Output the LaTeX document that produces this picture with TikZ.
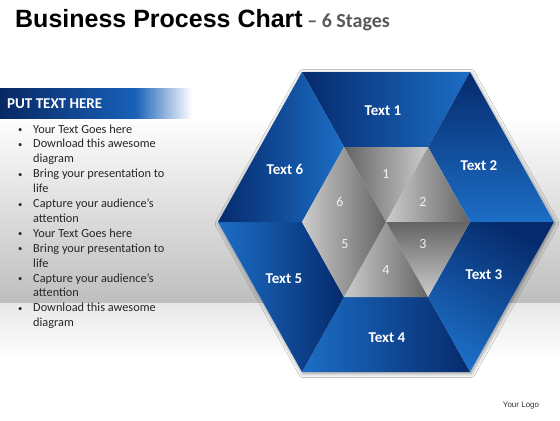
\documentclass[tikz,border=0pt]{standalone}
\usepackage{fontspec}
\setmainfont{Carlito}
\newfontfamily\arialf{Liberation Sans}
\usetikzlibrary{shadows.blur}
\definecolor{bluedark}{RGB}{6,42,108}
\definecolor{bluelight}{RGB}{28,110,198}
\definecolor{graydark}{RGB}{100,100,100}
\definecolor{graylight}{RGB}{204,204,204}
\definecolor{bggray}{RGB}{190,190,190}
\definecolor{titlegray}{RGB}{89,89,89}
\definecolor{textgray}{RGB}{38,38,38}
\definecolor{navy}{RGB}{8,40,100}
\definecolor{barblue}{RGB}{24,96,184}
\newcommand{\mybul}{\raisebox{0.5bp}{\scalebox{0.7}{•}}}
\tikzset{
  seg/.style={top color=bluelight, bottom color=bluedark, shading angle=#1},
  tri/.style={top color=graylight, bottom color=graydark, shading angle=#1},
  lbl/.style={text=white, font=\bfseries\fontsize{15bp}{18bp}\selectfont, inner sep=0pt},
  num/.style={text=white!94!black, font=\fontsize{14bp}{16bp}\selectfont, inner sep=0pt}
}
\begin{document}
\begin{tikzpicture}[x=1bp,y=-1bp]
\useasboundingbox (0,0) rectangle (560,420);
\fill[white] (0,0) rectangle (560,420);
% background band
\fill[top color=white, bottom color=bggray] (0,115) rectangle (560,303);
\fill[top color=black!9, bottom color=white] (0,303) rectangle (560,360);
% title
\node[anchor=base west, inner sep=0pt] (title) at (15,27)
  {\arialf\bfseries\fontsize{25bp}{30bp}\selectfont Business Process Chart\fontsize{20bp}{24bp}\selectfont\normalfont\bfseries\color{titlegray} \ – 6 Stages};
% header bar
\fill[left color=navy, right color=barblue] (0,88) rectangle (135,118);
\fill[left color=barblue, right color=white] (135,88) rectangle (192,118);
\node[anchor=base west, inner sep=0pt, text=white, font=\bfseries\fontsize{15bp}{18bp}\selectfont] (head) at (7,108) {PUT TEXT HERE};
% bullets
\node[anchor=base west, inner sep=0pt, text=textgray, font=\fontsize{12.3bp}{14.9bp}\selectfont] (list) at (18,133)
{\begin{tabular}[t]{@{}p{15bp}@{}l@{}}
\mybul& Your Text Goes here\\
\mybul& Download this awesome\\
 & diagram\\
\mybul& Bring your presentation to\\
 & life\\
\mybul& Capture your audience’s\\
 & attention\\
\mybul& Your Text Goes here\\
\mybul& Bring your presentation to\\
 & life\\
\mybul& Capture your audience’s\\
 & attention\\
\mybul& Download this awesome\\
 & diagram
\end{tabular}};
% hexagon geometry
\coordinate (C) at (386,222);
\coordinate (O1) at (302,72);
\coordinate (O2) at (470,72);
\coordinate (O3) at (554,222);
\coordinate (O4) at (470,372);
\coordinate (O5) at (302,372);
\coordinate (O6) at (218,222);
\foreach \i in {1,...,6} {\coordinate (I\i) at ($(C)!0.5!(O\i)$);}
\fill[white, blur shadow={shadow xshift=1bp, shadow yshift=-1.5bp, shadow blur radius=4bp, shadow opacity=45}]
  (O1)--(O2)--(O3)--(O4)--(O5)--(O6)--cycle;
% blue segments
\shade[seg=270] (O1)--(O2)--(I2)--(I1)--cycle;
\shade[seg=180] (O2)--(O3)--(I3)--(I2)--cycle;
\shade[seg=150] (O3)--(O4)--(I4)--(I3)--cycle;
\shade[seg=90]  (O4)--(O5)--(I5)--(I4)--cycle;
\shade[seg=90]  (O5)--(O6)--(I6)--(I5)--cycle;
\shade[seg=270] (O6)--(O1)--(I1)--(I6)--cycle;
% gray triangles
\shade[tri=270] (C)--(I1)--(I2)--cycle;
\shade[tri=90]  (C)--(I2)--(I3)--cycle;
\shade[tri=180] (C)--(I3)--(I4)--cycle;
\shade[tri=90]  (C)--(I4)--(I5)--cycle;
\shade[tri=90]  (C)--(I5)--(I6)--cycle;
\shade[tri=90]  (C)--(I6)--(I1)--cycle;
% labels
\node[lbl] (t1) at (383,111) {Text 1};
\node[lbl] (t2) at (479,166) {Text 2};
\node[lbl] (t3) at (484,275) {Text 3};
\node[lbl] (t4) at (387,338) {Text 4};
\node[lbl] (t5) at (284,279) {Text 5};
\node[lbl] (t6) at (285,169) {Text 6};
\node[num] (n1) at (386,174) {1};
\node[num] (n2) at (423,202) {2};
\node[num] (n3) at (423,244) {3};
\node[num] (n4) at (386,270) {4};
\node[num] (n5) at (345,244) {5};
\node[num] (n6) at (340,202) {6};
\node[inner sep=0pt, text=black!80, font=\arialf\fontsize{8bp}{10bp}\selectfont] (logo) at (521,406) {Your Logo};
\end{tikzpicture}
\end{document}
